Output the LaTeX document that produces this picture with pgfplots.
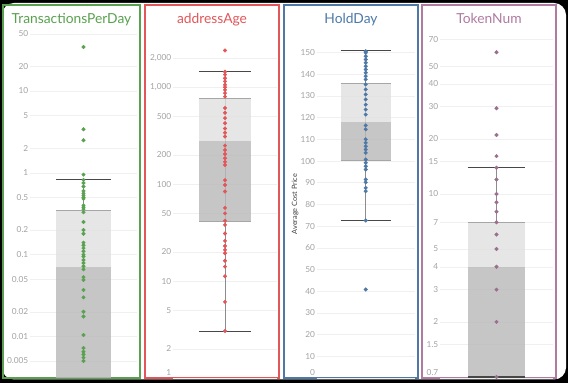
\documentclass[border=0pt]{standalone}
\usepackage{fontspec}
\setmainfont{Lato}
\usepackage{pgfplots}
\pgfplotsset{compat=1.18}

\definecolor{cgreen}{HTML}{59A14F}
\definecolor{cred}{HTML}{E15759}
\definecolor{cblue}{HTML}{4E79A7}
\definecolor{cpurple}{HTML}{B07AA1}
\definecolor{cpurpled}{HTML}{9C6D8E}
\definecolor{boxlight}{HTML}{E0E0E0}
\definecolor{boxdark}{HTML}{BABABA}
\definecolor{tickgray}{HTML}{A3A3A3}

\pgfplotsset{
  panel/.style={
    anchor=south west, scale only axis, height=348pt,
    xmin=-1, xmax=1, xtick=\empty,
    axis line style={draw=none},
    major tick length=0pt,
    ymajorgrids, grid style={color=black!6, line width=0.5pt},
    yticklabel style={font=\fontsize{8.3}{9}\selectfont, text=tickgray, inner sep=1.5pt},
    extra y tick style={yticklabel style={yshift=5pt}},
  },
  whisk/.style={draw=black!45, line width=0.9pt},
  cap/.style={draw=black!72, line width=1.2pt},
  edge/.style={draw=black!35, line width=0.6pt},
  lbox/.style={fill=boxlight, fill opacity=0.78, draw=none},
  dbox/.style={fill=boxdark, fill opacity=0.82, draw=none},
  dots/.style={only marks, mark=*, mark size=1.8pt, mark options={draw=none}},
}

\begin{document}
\begin{tikzpicture}
\begin{scope}[x=1pt,y=1pt]
\fill[black] (0,0) rectangle (568,383);
\fill[white, rounded corners=12pt] (2,3.5) rectangle (566,380);

% panel frames
\draw[cgreen, line width=1.4pt] (3,5) rectangle (140,378);
\draw[cred, line width=1.4pt] (145,5) rectangle (279,378);
\draw[cblue, line width=1.4pt] (284,5) rectangle (418,378);
\draw[cpurple, line width=1.4pt] (422,5) rectangle (556,378);

% titles
\node[anchor=base, text=cgreen, font=\fontsize{13.8}{16}\selectfont] at (71.5,359) {TransactionsPerDay};
\node[anchor=base, text=cred, font=\fontsize{13.8}{16}\selectfont] at (212,359) {addressAge};
\node[anchor=base, text=cblue, font=\fontsize{13.8}{16}\selectfont] at (351,359) {HoldDay};
\node[anchor=base, text=cpurple, font=\fontsize{13.8}{16}\selectfont] at (489,359) {TokenNum};
\end{scope}

% ---------- Panel 1: TransactionsPerDay ----------
\begin{axis}[panel, at={(30pt,5pt)}, width=107pt, ymode=log,
  ymin=0.0031, ymax=55.7,
  ytick={0.005,0.01,0.02,0.05,0.1,0.2,0.5,1,2,5,10,20,50},
  yticklabels={0.005,0.01,0.02,0.05,0.1,0.2,0.5,1,2,5,10,20,50}]
\addplot[whisk] coordinates {(0,0.35) (0,0.83)};
\addplot[dots, cgreen] coordinates {
(0,34.5) (0,3.4) (0,2.5) (0,0.95) (0,0.82) (0,0.75) (0,0.68) (0,0.6) (0,0.56)
(0,0.53) (0,0.5) (0,0.48) (0,0.4) (0,0.38) (0,0.36) (0,0.33) (0,0.25) (0,0.2)
(0,0.18) (0,0.14) (0,0.13) (0,0.12) (0,0.11) (0,0.1) (0,0.095) (0,0.086)
(0,0.079) (0,0.072) (0,0.066) (0,0.053) (0,0.049) (0,0.037) (0,0.03) (0,0.02)
(0,0.0175) (0,0.0104) (0,0.0072) (0,0.0065) (0,0.006) (0,0.0055) (0,0.005)};
\addplot[lbox] coordinates {(-0.51,0.071) (0.51,0.071) (0.51,0.35) (-0.51,0.35)} -- cycle;
\addplot[dbox] coordinates {(-0.51,0.0031) (0.51,0.0031) (0.51,0.071) (-0.51,0.071)} -- cycle;
\addplot[edge] coordinates {(-0.51,0.35) (0.51,0.35)};
\addplot[cap] coordinates {(-0.51,0.83) (0.51,0.83)};
\end{axis}

% ---------- Panel 2: addressAge ----------
\begin{axis}[panel, at={(173pt,5pt)}, width=104pt, ymode=log,
  ymin=1, ymax=3900,
  ytick={2,5,10,20,50,100,200,500,1000,2000},
  yticklabels={2,5,10,20,50,100,200,500,{1,000},{2,000}},
  extra y ticks={1}, extra y tick labels={1}]
\addplot[whisk] coordinates {(0,3) (0,1450)};
\addplot[dots, cred] coordinates {
(0,2400) (0,1445) (0,1350) (0,1240) (0,1150) (0,1060) (0,1000) (0,940) (0,870)
(0,800) (0,610) (0,545) (0,480) (0,425) (0,375) (0,340) (0,310) (0,250) (0,225)
(0,205) (0,185) (0,170) (0,158) (0,110) (0,98) (0,84) (0,57) (0,50) (0,42)
(0,38) (0,31) (0,26) (0,23) (0,21) (0,19.4) (0,16.2) (0,14.1) (0,11.2) (0,6.1) (0,3.05)};
\addplot[lbox] coordinates {(-0.5,279) (0.5,279) (0.5,778) (-0.5,778)} -- cycle;
\addplot[dbox] coordinates {(-0.5,41) (0.5,41) (0.5,279) (-0.5,279)} -- cycle;
\addplot[edge] coordinates {(-0.5,778) (0.5,778)};
\addplot[edge] coordinates {(-0.5,41) (0.5,41)};
\addplot[cap] coordinates {(-0.5,1450) (0.5,1450)};
\addplot[cap] coordinates {(-0.5,3) (0.5,3)};
\end{axis}

% ---------- Panel 3: HoldDay ----------
\begin{axis}[panel, at={(316.7pt,5pt)}, width=98pt,
  ymin=0, ymax=160.4,
  ytick={10,20,...,150},
  yticklabels={10,20,30,40,50,60,70,80,90,100,110,120,130,140,150},
  extra y ticks={0}, extra y tick labels={0},
  ylabel={Average Cost Price},
  every axis y label/.style={at={(axis description cs:-0.22,0.5)}, rotate=90, anchor=center},
  ylabel style={font=\fontsize{7.3}{8}\selectfont, text=black!75}]
\addplot[whisk] coordinates {(0,72.6) (0,150.8)};
\addplot[dots, cblue] coordinates {
(0,150.6) (0,149.9) (0,148.3) (0,146.8) (0,145.3) (0,143.7) (0,142.2) (0,140.7)
(0,139.1) (0,137.6) (0,135.3) (0,133) (0,130.7) (0,128.4) (0,126) (0,123.7)
(0,121.4) (0,116.4) (0,114.6) (0,110) (0,108.4) (0,106.8) (0,105.3) (0,103.8)
(0,100.7) (0,99.2) (0,97.6) (0,96.1) (0,91.5) (0,90.2) (0,87.6) (0,86.1)
(0,72.6) (0,40.8)};
\addplot[lbox] coordinates {(-0.51,118) (0.51,118) (0.51,136) (-0.51,136)} -- cycle;
\addplot[dbox] coordinates {(-0.51,100.5) (0.51,100.5) (0.51,118) (-0.51,118)} -- cycle;
\addplot[edge] coordinates {(-0.51,136) (0.51,136)};
\addplot[edge] coordinates {(-0.51,100.5) (0.51,100.5)};
\addplot[cap] coordinates {(-0.51,150.8) (0.51,150.8)};
\addplot[cap] coordinates {(-0.51,72.6) (0.51,72.6)};
\end{axis}

% ---------- Panel 4: TokenNum ----------
\begin{axis}[panel, at={(440pt,5pt)}, width=113pt, ymode=log,
  ymin=0.987, ymax=78.7,
  ytick={1.5,2,3,4,5,7,10,15,20,30,40,50,70},
  yticklabels={1.5,2,3,4,5,7,10,15,20,30,40,50,70},
  extra y ticks={0.987}, extra y tick labels={0.7}]
\addplot[whisk] coordinates {(0,7) (0,14)};
\addplot[dots, cpurpled] coordinates {
(0,59.5) (0,29.4) (0,21) (0,16.1) (0,13.9) (0,12) (0,10) (0,9) (0,8) (0,7)
(0,6) (0,5) (0,4) (0,3) (0,2) (0,1)};
\addplot[lbox] coordinates {(-0.51,4) (0.51,4) (0.51,7) (-0.51,7)} -- cycle;
\addplot[dbox] coordinates {(-0.51,0.987) (0.51,0.987) (0.51,4) (-0.51,4)} -- cycle;
\addplot[edge] coordinates {(-0.51,7) (0.51,7)};
\addplot[cap] coordinates {(-0.51,14) (0.51,14)};
\addplot[cap] coordinates {(-0.51,1) (0.51,1)};
\end{axis}
\end{tikzpicture}
\end{document}
